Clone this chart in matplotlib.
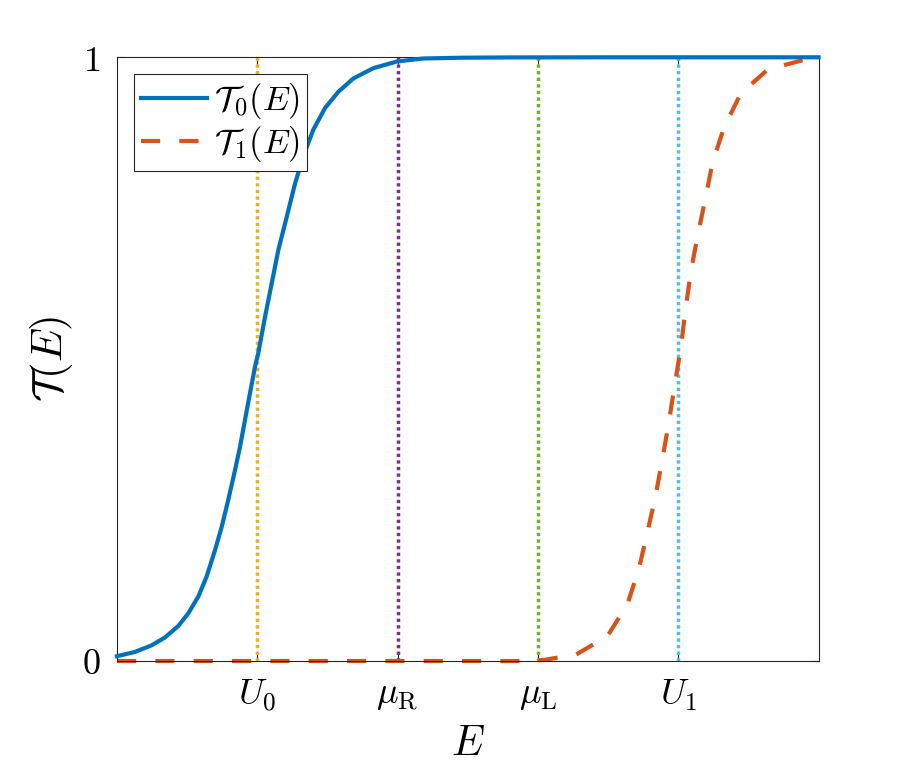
import matplotlib
matplotlib.use("Agg")
from matplotlib import pyplot as plt

plt.rcParams['mathtext.fontset'] = 'cm'
plt.rcParams['font.family'] = 'serif'
plt.rcParams['font.serif'] = ['DejaVu Serif']

# energy levels (arbitrary units along E) and their labels
level_pos = [1, 2, 3, 4]
level_labels = [r'$U_0$', r'$\mu_{\rm R}$', r'$\mu_{\rm L}$', r'$U_1$']
level_colors = ['#EDB120', '#7E2F8E', '#77AC30', '#4DBEEE']

# transmission of channel 0
E0 = [0.0, 0.128, 0.247, 0.342, 0.437, 0.508, 0.580, 0.639, 0.699, 0.746,
      0.793, 0.841, 0.877, 0.912, 0.948, 0.984, 1.007, 1.055, 1.103, 1.150,
      1.210, 1.269, 1.328, 1.399, 1.483, 1.578, 1.685, 1.827, 1.994, 2.18,
      2.45, 2.8, 3.5, 5.0]
T0 = [0.008, 0.015, 0.026, 0.039, 0.058, 0.079, 0.107, 0.140, 0.184, 0.222,
      0.267, 0.316, 0.355, 0.399, 0.444, 0.488, 0.510, 0.570, 0.626, 0.681,
      0.736, 0.791, 0.836, 0.880, 0.916, 0.943, 0.965, 0.982, 0.993, 0.998,
      0.9993, 0.9998, 1.0, 1.0]

# transmission of channel 1
E1 = [0.0, 2.94, 3.05, 3.275, 3.495, 3.638, 3.72, 3.781, 3.838, 3.888, 3.935,
      3.977, 4.02, 4.048, 4.09, 4.137, 4.191, 4.245, 4.327, 4.446, 4.64, 4.9, 5.0]
T1 = [0.0, 0.0, 0.002, 0.011, 0.041, 0.094, 0.153, 0.214, 0.273, 0.335, 0.398,
      0.460, 0.521, 0.575, 0.645, 0.703, 0.763, 0.826, 0.884, 0.940, 0.980,
      0.996, 0.999]

fig = plt.figure(figsize=(9.05, 7.69), dpi=100)
ax = fig.add_axes([117 / 905, 1 - 661 / 769, (818.5 - 117) / 905, (661 - 57.3) / 769])

for p, c in zip(level_pos, level_colors):
    ax.plot([p, p], [0, 1], color=c, lw=2.5, dashes=(0.95, 0.95), zorder=2, clip_on=False)

ax.plot(E0, T0, color='#0072BD', lw=3, label=r'$\mathcal{T}_0(E)$', zorder=3, clip_on=False)
ax.plot(E1, T1, color='#D95319', lw=3, dashes=(4.6, 4.6), label=r'$\mathcal{T}_1(E)$',
        zorder=2.5, clip_on=False)

ax.set_xlim(0, 5)
ax.set_ylim(0, 1)
ax.set_xticks(level_pos)
ax.set_xticklabels(level_labels)
ax.set_yticks([0, 1])
ax.set_yticklabels([r'$0$', r'$1$'])
ax.tick_params(direction='in', length=5, width=0.8, top=True, right=True,
               labelsize=26, color='#262626', pad=12)
for s in ax.spines.values():
    s.set_color('#262626')
    s.set_linewidth(0.8)

ax.set_xlabel(r'$E$', fontsize=30, labelpad=6)
ax.set_ylabel(r'$\mathcal{T}(E)$', fontsize=31, labelpad=5)

leg = ax.legend(loc='upper left', bbox_to_anchor=(134 / 905, 1 - 74 / 769),
                bbox_transform=fig.transFigure, borderaxespad=0, fontsize=25,
                fancybox=False, framealpha=1, edgecolor='#262626',
                handlelength=1.9, handletextpad=0.2, borderpad=0.2, labelspacing=0.1)
leg.get_frame().set_linewidth(0.8)

fig.savefig('out.png', dpi=100)
